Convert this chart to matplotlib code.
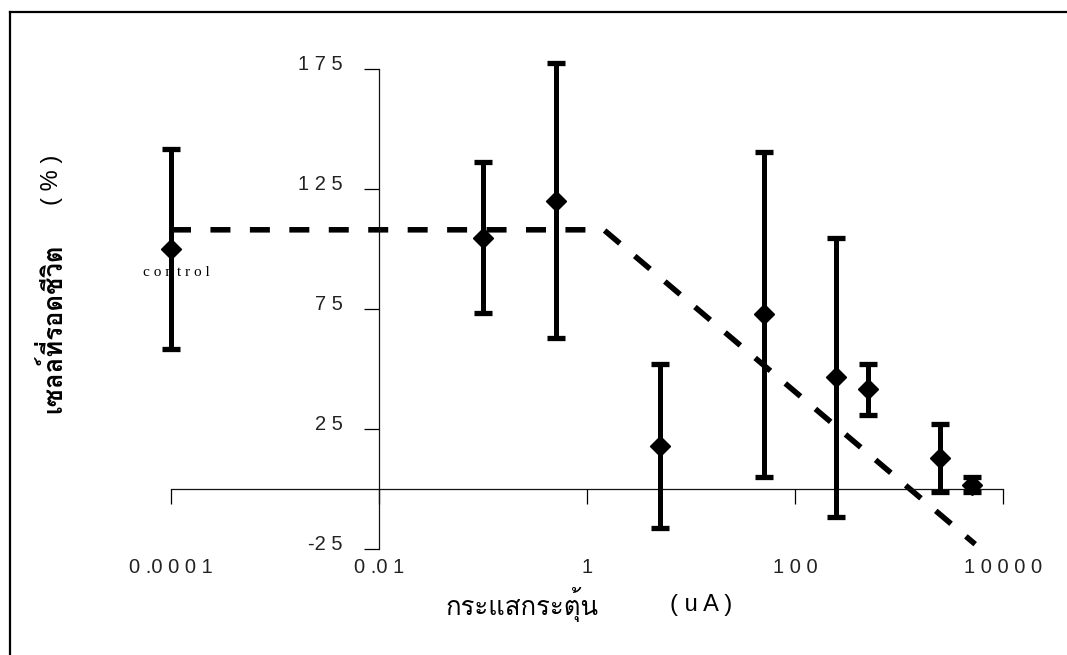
import matplotlib
matplotlib.use("Agg")
import matplotlib.pyplot as plt
import matplotlib.transforms as mtransforms
from matplotlib import font_manager
from matplotlib.ft2font import FT2Font
from matplotlib.lines import Line2D

# data
current_ua = [0.0001, 0.1, 0.5, 5, 50, 250, 500, 2500, 5000]
survival = [100, 104.7, 120.1, 18.0, 72.8, 46.5, 41.5, 12.8, 1.8]
survival_err = [41.5, 31.4, 57.3, 34.2, 67.7, 58.0, 10.6, 14.2, 3.2]

trend_x = [0.0001, 1.45, 5400]
trend_y = [108, 108, -23]

yticks = [-25, 25, 75, 125, 175]
ytick_labels = ["-2 5", "2 5", "7 5", "1 2 5", "1 7 5"]
xticks = [0.0001, 0.01, 1, 100, 10000]
xtick_labels = ["0 .0 0 0 1", "0 .0 1", "1", "1 0 0", "1 0 0 0 0"]


def find_thai_font():
    # look for any installed font that has Thai glyphs
    for f in font_manager.fontManager.ttflist:
        try:
            if 0x0E01 in FT2Font(f.fname).get_charmap():
                return f.name
        except Exception:
            pass
    return "DejaVu Sans"


thai = find_thai_font()
sans = "Liberation Sans"

fig = plt.figure(figsize=(10.67, 6.55), dpi=100)
ax = fig.add_axes([171 / 1067, 1 - 549 / 655, (1003 - 171) / 1067, (549 - 69) / 655])

ax.set_xscale("log")
ax.set_xlim(1e-4, 1e4)
ax.set_ylim(-25, 175)

ax.spines["top"].set_visible(False)
ax.spines["right"].set_visible(False)
ax.spines["left"].set_position(("data", 0.01))
ax.spines["bottom"].set_position(("data", 0))
for s in ["left", "bottom"]:
    ax.spines[s].set_linewidth(0.9)
    ax.spines[s].set_color("#111111")

ax.set_yticks(yticks)
ax.set_yticklabels(ytick_labels, fontfamily=sans, fontsize=14.5, color="#222222")
ax.set_xticks(xticks)
ax.set_xticklabels(xtick_labels, fontfamily=sans, fontsize=14.5, color="#222222")
ax.minorticks_off()
ax.tick_params(axis="y", direction="out", length=11, width=0.9, pad=15)
ax.tick_params(axis="x", direction="out", length=11, width=0.9, pad=39)

# y labels sit a little above their ticks
up = mtransforms.ScaledTranslation(0, 5 / 72, fig.dpi_scale_trans)
for t in ax.yaxis.get_major_ticks():
    t.label1.set_transform(t.label1.get_transform() + up)

# trend line
ax.plot(trend_x, trend_y, color="black", lw=4, linestyle=(0, (3.6, 3.5)),
        clip_on=False, zorder=2)

# measurements
eb = ax.errorbar(current_ua, survival, yerr=survival_err, fmt="D", color="black",
                 ms=10.5, elinewidth=3.6, capsize=6.8, capthick=3.8,
                 clip_on=False, zorder=3)
for c in eb[1]:
    c.set_solid_capstyle("round")
    c.set_clip_on(False)
for c in eb[2]:
    c.set_clip_on(False)

ax.annotate("c o n t r o l", xy=(current_ua[0], survival[0]), xytext=(4, -17),
            textcoords="offset points", ha="center", va="center",
            fontfamily="Liberation Serif", fontsize=11)

# axis titles
fig.text(52 / 1067, 1 - 328 / 655, "เซลล์ที่รอดชีวิต", rotation=90, ha="center",
         va="center", fontfamily=thai, fontsize=18.5, fontweight="bold")
fig.text(52 / 1067, 1 - 180 / 655, "( % )", rotation=90, ha="center", va="center",
         fontfamily=sans, fontsize=17)
fig.text(522 / 1067, 1 - 605 / 655, "กระแสกระตุ้น", ha="center", va="center",
         fontfamily=thai, fontsize=18.5)
fig.text(701 / 1067, 1 - 605 / 655, "( u A )", ha="center", va="center",
         fontfamily=sans, fontsize=17)

# page frame (only top and left edges are in view)
fig.add_artist(Line2D([10 / 1067, 1], [1 - 12 / 655, 1 - 12 / 655],
                      transform=fig.transFigure, color="black", lw=1.6))
fig.add_artist(Line2D([10 / 1067, 10 / 1067], [0, 1 - 12 / 655],
                      transform=fig.transFigure, color="black", lw=1.6))

fig.savefig("out.png", dpi=100)
